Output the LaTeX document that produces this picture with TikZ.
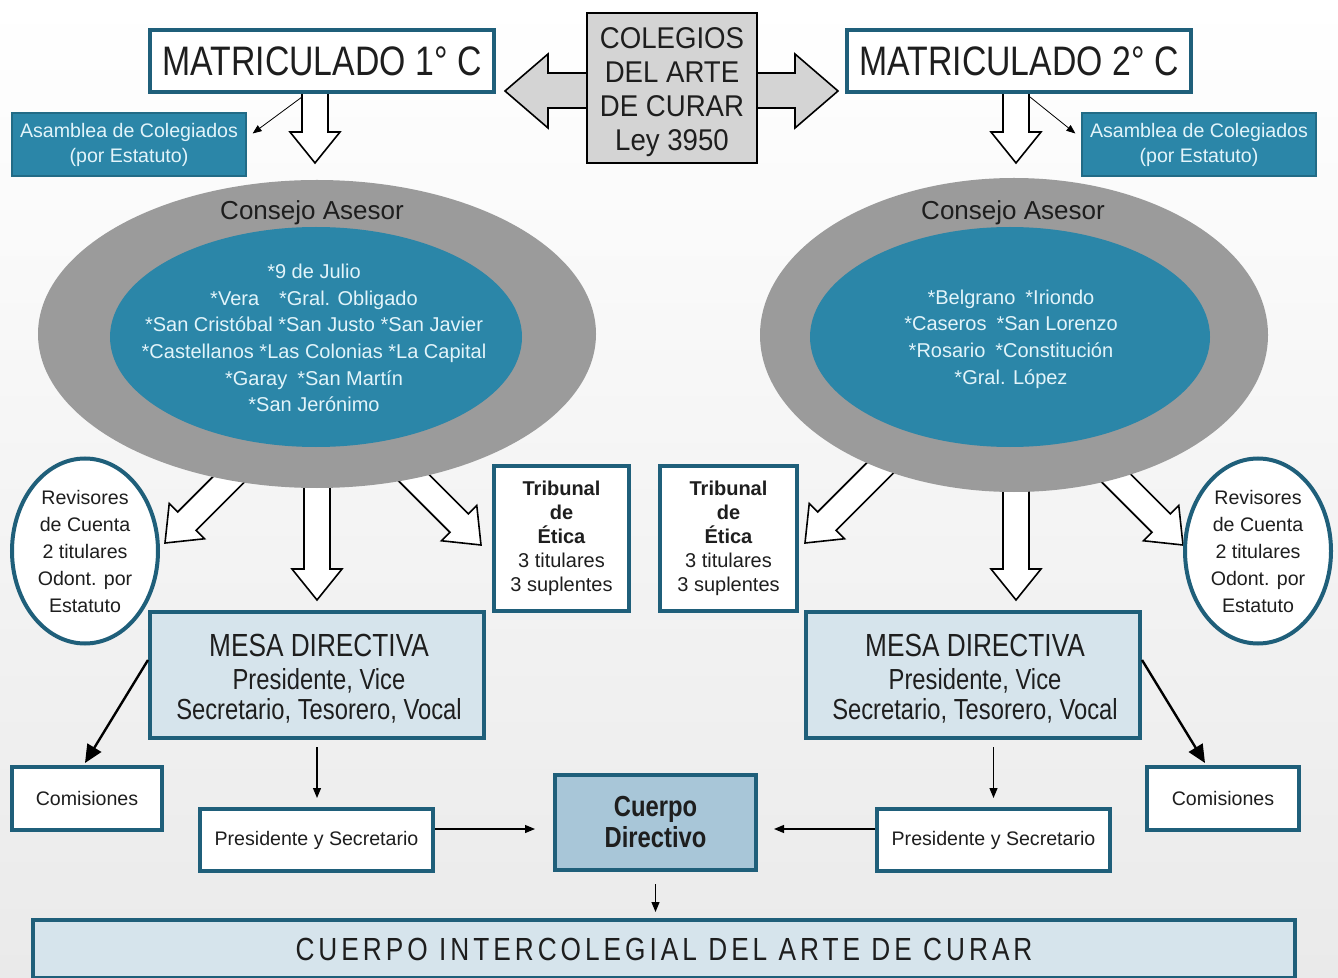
\documentclass[tikz,border=0pt]{standalone}
\usepackage{fontspec}
\setmainfont{Liberation Sans}
\newfontfamily\cond[FakeStretch=0.82]{Liberation Sans}
\newfontfamily\condb[FakeStretch=0.92]{Liberation Sans}
\newfontfamily\spaced[FakeStretch=0.82,LetterSpace=12.5]{Liberation Sans}
\usetikzlibrary{calc,arrows.meta,shapes.geometric}
\definecolor{tealdark}{RGB}{31,95,122}
\definecolor{tealmid}{RGB}{43,134,168}
\definecolor{outergray}{RGB}{155,155,155}
\definecolor{lightblue}{RGB}{214,228,236}
\definecolor{midblue}{RGB}{168,198,216}
\definecolor{colgray}{RGB}{212,212,212}
\definecolor{paletext}{RGB}{226,244,250}
\definecolor{bggray}{RGB}{234,234,234}
\definecolor{ink}{RGB}{30,30,30}
\newcommand\hollowarrow[2]{%
  \coordinate (hc) at ($(#2)!15.5pt!(#1)$);
  \draw[hollow] ($(#1)!6.5pt!90:(#2)$) -- ($(hc)!6.5pt!-90:(#1)$) -- ($(hc)!12.5pt!-90:(#1)$) -- (#2) -- ($(hc)!12.5pt!90:(#1)$) -- ($(hc)!6.5pt!90:(#1)$) -- ($(#1)!6.5pt!-90:(#2)$);
}
\begin{document}
\begin{tikzpicture}[x=0.5pt,y=-0.5pt,
  tbox/.style={draw=tealdark, line width=2pt, fill=white, inner sep=0pt, text=ink, align=center},
  bluebox/.style={tbox, fill=lightblue},
  asmbox/.style={fill=tealmid, draw=tealmid!80!black, line width=0.6pt, inner sep=0pt, text=paletext, align=center, minimum width=117pt, minimum height=31.5pt, font=\fontsize{9.8}{12.5}\selectfont},
  revbox/.style={ellipse, draw=tealdark, line width=2pt, fill=white, inner sep=0pt, minimum width=73pt, minimum height=92.5pt, text=ink, align=center, font=\fontsize{9.8}{13.5}\selectfont},
  tribox/.style={tbox, minimum height=72.5pt, font=\fontsize{10}{12}\selectfont},
  mesatxt/.style={align=center, text=ink, inner sep=0pt, font=\cond\fontsize{14.5}{12}\selectfont},
  hollow/.style={draw=black, line width=0.8pt, fill=white, line join=miter},
  thinarr/.style={draw=black, line width=0.6pt, -{Triangle[length=5pt,width=4pt]}},
  thinarrb/.style={draw=black, line width=0.4pt, -{Triangle[length=4.5pt,width=3.5pt]}},
  bigarr/.style={draw=black, line width=1.2pt, -{Triangle[length=9pt,width=8pt]}},
  listtxt/.style={text=paletext, align=center, font=\fontsize{10}{13.3}\selectfont},
  consejo/.style={text=ink, font=\fontsize{13}{15}\selectfont}]
\useasboundingbox (0,0) rectangle (1338,978);
\shade[top color=white, bottom color=bggray] (0,0) rectangle (1338,978);

% hollow arrows (drawn first, their tails are hidden)
\coordinate (hm1s) at (315,80);   \coordinate (hm1t) at (315,163);
\coordinate (hm2s) at (1016,80);  \coordinate (hm2t) at (1016,163);
\coordinate (hl1s) at (317,450);  \coordinate (hl1t) at (317,600);
\coordinate (hl2s) at (255,453);  \coordinate (hl2t) at (165,543);
\coordinate (hl3s) at (390,454);  \coordinate (hl3t) at (481,545);
\coordinate (hr1s) at (1016,450); \coordinate (hr1t) at (1016,600);
\coordinate (hr2s) at (895,453);  \coordinate (hr2t) at (805,543);
\coordinate (hr3s) at (1093,455); \coordinate (hr3t) at (1183,545);
\hollowarrow{hm1s}{hm1t}
\hollowarrow{hm2s}{hm2t}
\hollowarrow{hl1s}{hl1t}
\hollowarrow{hl2s}{hl2t}
\hollowarrow{hl3s}{hl3t}
\hollowarrow{hr1s}{hr1t}
\hollowarrow{hr2s}{hr2t}
\hollowarrow{hr3s}{hr3t}

% double arrow behind the Colegios box
\draw[fill=colgray, draw=black, line width=0.8pt, line join=miter]
  (505,91) -- (548,54) -- (548,73) -- (795,73) -- (795,54) -- (838,91)
  -- (795,128) -- (795,108) -- (548,108) -- (548,128) -- cycle;

% Consejo Asesor ellipses
\node[ellipse, fill=outergray, minimum width=279pt, minimum height=154pt, inner sep=0pt] (ca1) at (317,334) {};
\node[ellipse, fill=tealmid, minimum width=206pt, minimum height=110pt, inner sep=0pt] (in1) at (316,337) {};
\node[ellipse, fill=outergray, minimum width=254pt, minimum height=157pt, inner sep=0pt] (ca2) at (1014,335) {};
\node[ellipse, fill=tealmid, minimum width=200pt, minimum height=110pt, inner sep=0pt] (in2) at (1010,337) {};
\node[consejo] (ct1) at (312,213) {Consejo Asesor};
\node[consejo] (ct2) at (1013,213) {Consejo Asesor};
\node[listtxt] (l1) at (314,338) {*9 de Julio\\*Vera\quad *Gral. Obligado\\*San Cristóbal *San Justo *San Javier\\*Castellanos *Las Colonias *La Capital\\*Garay\enspace *San Martín\\*San Jerónimo};
\node[listtxt] (l2) at (1011,339) {*Belgrano\enspace *Iriondo\\*Caseros\enspace *San Lorenzo\\*Rosario\enspace *Constitución\\*Gral. López};

% top boxes
\node[tbox, minimum width=172pt, minimum height=31pt, font=\cond\fontsize{20.6}{24}\selectfont] (mat1) at (322,61) {MATRICULADO 1° C};
\node[tbox, minimum width=172pt, minimum height=31pt, font=\cond\fontsize{20.6}{24}\selectfont] (mat2) at (1019,61) {MATRICULADO 2° C};
\node[draw=black, line width=0.8pt, fill=colgray, inner sep=0pt, minimum width=85pt, minimum height=75pt, text=ink] (col) at (672,88) {};
\node[align=center, text=ink, inner sep=0pt, font=\condb\fontsize{15}{17}\selectfont] (colt) at (672,92) {COLEGIOS\\DEL ARTE\\DE CURAR\\Ley 3950};
\node[asmbox] (asm1) at (129,144.5) {Asamblea de Colegiados\\(por Estatuto)};
\node[asmbox] (asm2) at (1199,144.5) {Asamblea de Colegiados\\(por Estatuto)};

% Revisores and Tribunal
\node[revbox] (rev1) at (85,551) {Revisores\\de Cuenta\\2 titulares\\Odont. por\\Estatuto};
\node[revbox] (rev2) at (1258,551) {Revisores\\de Cuenta\\2 titulares\\Odont. por\\Estatuto};
\node[tribox, minimum width=67.5pt] (tri1) at (561.5,538.5) {\textbf{Tribunal}\\\textbf{de}\\\textbf{Ética}\\3 titulares\\3 suplentes};
\node[tribox, minimum width=68.5pt] (tri2) at (728.5,538.5) {\textbf{Tribunal}\\\textbf{de}\\\textbf{Ética}\\3 titulares\\3 suplentes};

% Mesa directiva
\node[bluebox, minimum width=167pt, minimum height=63pt] (mesa1) at (317,675) {};
\node[bluebox, minimum width=167pt, minimum height=63pt] (mesa2) at (973,675) {};
\node[mesatxt] (mt1) at (319,679) {{\fontsize{16}{16}\selectfont MESA DIRECTIVA}\\[4.5pt]Presidente, Vice\\[1.5pt]Secretario, Tesorero, Vocal};
\node[mesatxt] (mt2) at (975,679) {{\fontsize{16}{16}\selectfont MESA DIRECTIVA}\\[4.5pt]Presidente, Vice\\[1.5pt]Secretario, Tesorero, Vocal};

% lower boxes
\node[tbox, minimum width=75pt, minimum height=31.5pt, font=\fontsize{9.8}{12}\selectfont] (com1) at (87,798.5) {Comisiones};
\node[tbox, minimum width=76pt, minimum height=31.5pt, font=\fontsize{9.8}{12}\selectfont] (com2) at (1223,798.5) {Comisiones};
\node[tbox, minimum width=116.5pt, minimum height=31pt, font=\fontsize{9.8}{12}\selectfont] (ps1) at (316.5,840) {Presidente y Secretario};
\node[tbox, minimum width=116.5pt, minimum height=31pt, font=\fontsize{9.8}{12}\selectfont] (ps2) at (993.5,840) {Presidente y Secretario};
\node[tbox, fill=midblue, minimum width=100.5pt, minimum height=47.5pt, font=\cond\bfseries\fontsize{14.5}{15.5}\selectfont] (cd) at (655.5,822.5) {Cuerpo\\Directivo};
\node[bluebox, minimum width=631pt, minimum height=29pt, font=\spaced\fontsize{16}{18}\selectfont] (ci) at (664,949) {CUERPO INTERCOLEGIAL DEL ARTE DE CURAR};

% connectors
\draw[thinarrb] ($(mat1.south)+(-20,3)$) -- ($(asm1.east)+(6,-11)$);
\draw[thinarrb] ($(mat2.south)+(11,3)$) -- ($(asm2.west)+(-6,-11)$);
\draw[bigarr] ($(mesa1.west)+(0,-15)$) -- ($(com1.north)+(-2,-2)$);
\draw[bigarr] ($(mesa2.east)+(0,-15)$) -- ($(com2.north)+(-18,-2)$);
\draw[thinarr] ($(mesa1.south)+(0,7)$) -- ($(ps1.north)+(0.5,-9)$);
\draw[thinarr] ($(mesa2.south -| ps2.north)+(0,7)$) -- ($(ps2.north)+(0,-9)$);
\draw[thinarr] ($(ps1.east)+(0,-11)$) -- ($(cd.west |- ps1.east)+(-18,-11)$);
\draw[thinarr] ($(ps2.west)+(0,-11)$) -- ($(cd.east |- ps2.west)+(16,-11)$);
\draw[thinarr] ($(cd.south)+(0,12)$) -- ($(cd.south |- ci.north)+(0,-6)$);
\end{tikzpicture}
\end{document}
